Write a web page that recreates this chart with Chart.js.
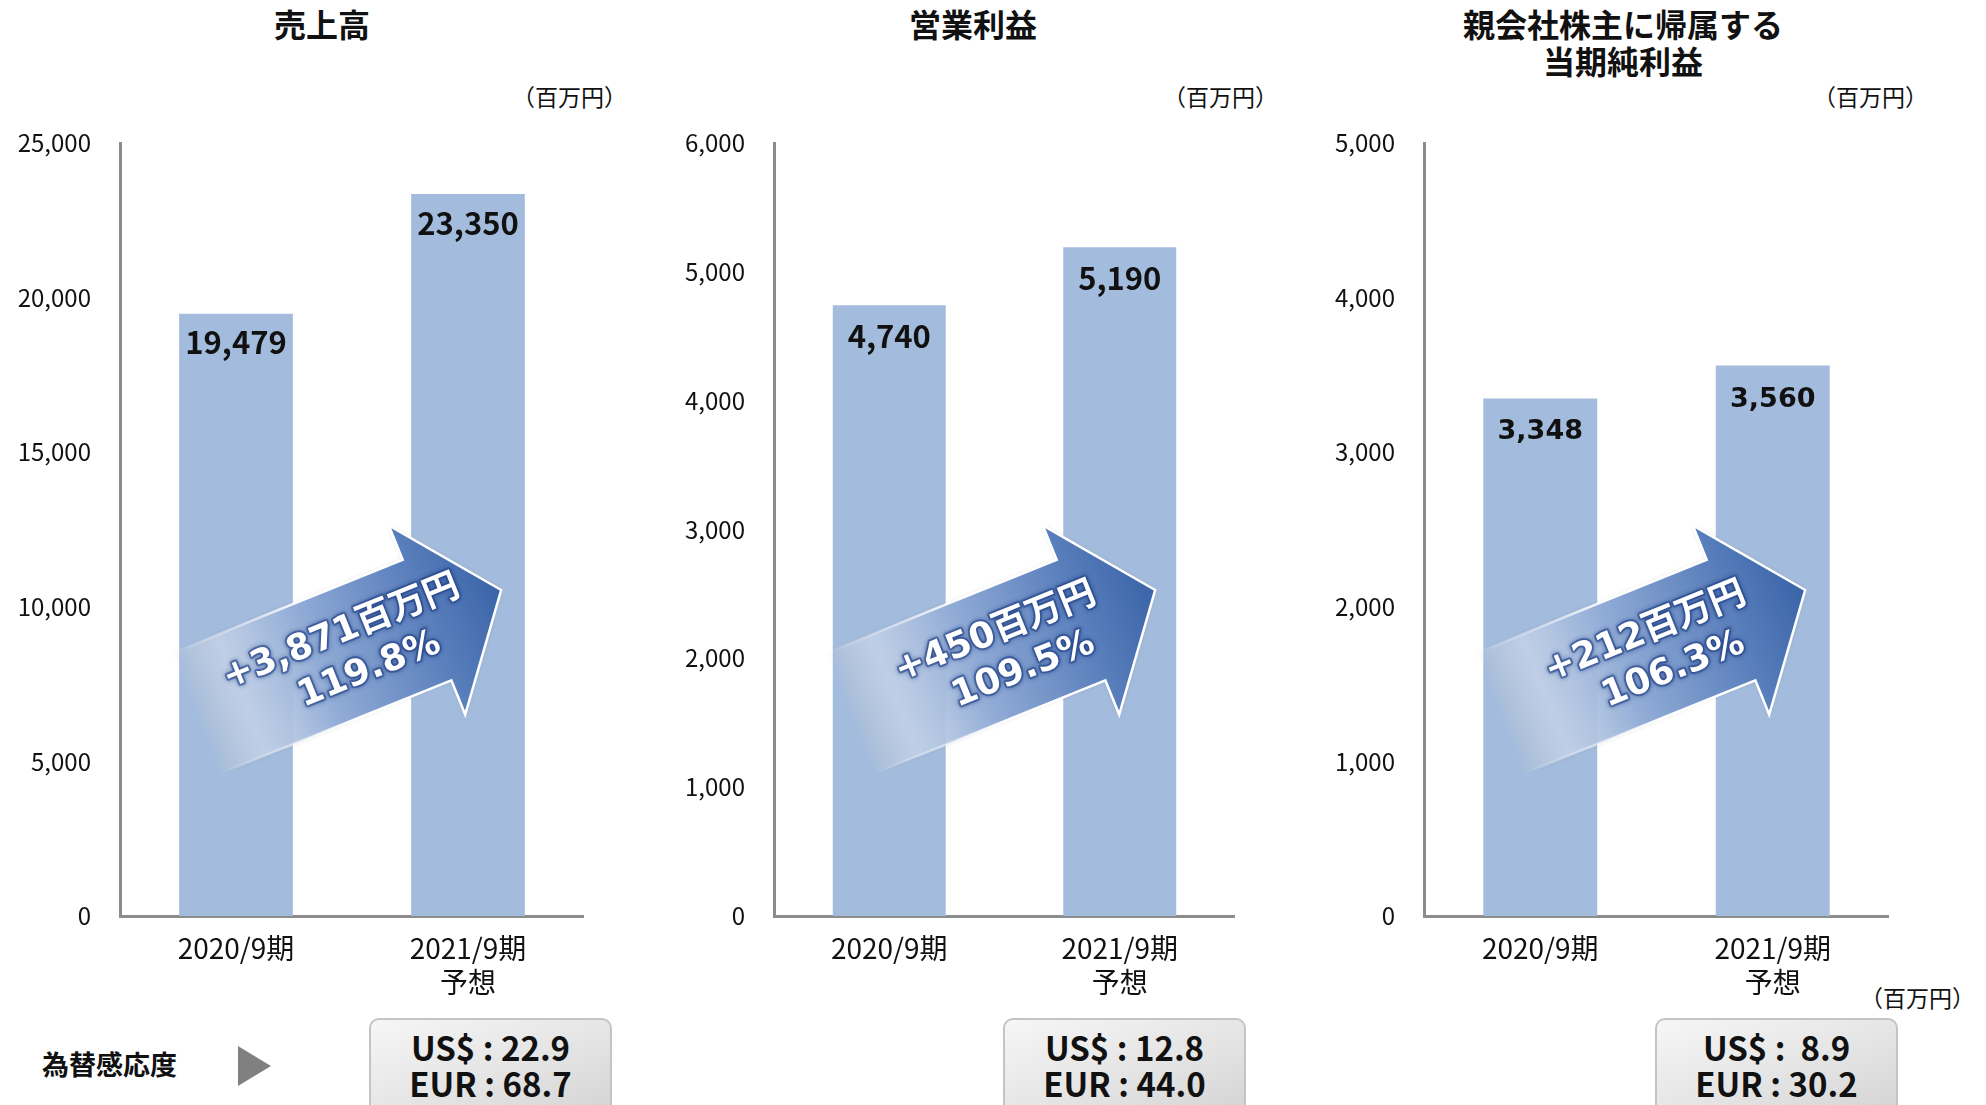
<!DOCTYPE html>
<html lang="ja">
<head>
<meta charset="utf-8">
<script src="https://cdn.jsdelivr.net/npm/chart.js@4.4.1/dist/chart.umd.min.js"></script>
<style>
body { margin: 0; width: 1986px; height: 1105px; overflow: hidden; background: #fff; position: relative;
       font-family: 'Noto Sans CJK JP', sans-serif; color: #111; }
canvas { position: absolute; top: 0; }
.title { position: absolute; font-weight: 700; font-size: 32px; line-height: 37px; text-align: center;
         transform: translateX(-50%); white-space: nowrap; }
.unit { position: absolute; font-size: 23px; line-height: 26px; white-space: nowrap; }
.box { position: absolute; top: 1018px; width: 243px; height: 120px; border: 2px solid #c4c4c4; border-radius: 10px;
       background: linear-gradient(160deg, #f6f6f6 0%, #e2e2e2 55%, #cfcfcf 100%);
       font-weight: 700; font-size: 33px; line-height: 36px; text-align: center; white-space: pre; padding-top: 9px;
       box-sizing: border-box; }
#fxLabel { position: absolute; left: 42px; top: 1046px; font-weight: 700; font-size: 27px; line-height: 36px; }
#fxArrow { position: absolute; left: 238px; top: 1046px; width: 0; height: 0;
           border-left: 33px solid #808080; border-top: 20px solid transparent; border-bottom: 20px solid transparent; }
</style>
</head>
<body>
<div class="title" style="left:322px; top:5px;">売上高</div>
<div class="title" style="left:973px; top:5px;">営業利益</div>
<div class="title" style="left:1623px; top:5px;">親会社株主に帰属する<br>当期純利益</div>
<div class="unit" style="left:512px; top:83px;">（百万円）</div>
<div class="unit" style="left:1163px; top:83px;">（百万円）</div>
<div class="unit" style="left:1813px; top:83px;">（百万円）</div>
<div class="unit" style="left:1860px; top:984px;">（百万円）</div>

<canvas id="salesChart" width="584" height="1000" style="left:0px"></canvas>
<canvas id="opChart" width="581" height="1000" style="left:654px"></canvas>
<canvas id="netChart" width="585" height="1000" style="left:1304px"></canvas>

<div id="fxLabel">為替感応度</div>
<div id="fxArrow"></div>
<div class="box" id="fx0" style="left:369px;"></div>
<div class="box" id="fx1" style="left:1003px;"></div>
<div class="box" id="fx2" style="left:1655px;"></div>

<script>
var categories = [['2020/9期'], ['2021/9期', '予想']];
var salesValues = [19479, 23350];
var opProfitValues = [4740, 5190];
var netProfitValues = [3348, 3560];
var axisMax = [25000, 6000, 5000];
var axisStep = [5000, 1000, 1000];
var growthAmounts = ['+3,871百万円', '+450百万円', '+212百万円'];
var growthRates = ['119.8%', '109.5%', '106.3%'];
var fxUsd = ['US$ : 22.9', 'US$ : 12.8', 'US$ :  8.9'];
var fxEur = ['EUR : 68.7', 'EUR : 44.0', 'EUR : 30.2'];

Chart.defaults.font.family = "'Noto Sans CJK JP', sans-serif";
Chart.defaults.color = '#111';

for (var i = 0; i < 3; i++) {
    document.getElementById('fx' + i).textContent = fxUsd[i] + '\n' + fxEur[i];
}

// value written inside the top of each bar
var barValueLabels = {
    id: 'barValueLabels',
    afterDatasetsDraw: function (chart, args, opts) {
        var ctx = chart.ctx;
        var meta = chart.getDatasetMeta(0);
        ctx.save();
        ctx.font = opts.font;
        ctx.fillStyle = '#111';
        ctx.textAlign = 'center';
        ctx.textBaseline = 'middle';
        meta.data.forEach(function (bar, i) {
            var v = chart.data.datasets[0].data[i];
            ctx.fillText(v.toLocaleString('en-US'), bar.x, bar.y + opts.offset);
        });
        ctx.restore();
    }
};

// the big blue growth arrow between the two bars
var growthArrow = {
    id: 'growthArrow',
    afterDraw: function (chart, args, opts) {
        var ctx = chart.ctx;
        var a = chart.chartArea;
        ctx.save();
        ctx.translate(a.left + 307, a.top + 477);
        ctx.rotate(-22 * Math.PI / 180);

        ctx.beginPath();
        ctx.moveTo(-250, -65);
        ctx.lineTo(0, -65);
        ctx.lineTo(0, -102);
        ctx.lineTo(80, 0);
        ctx.lineTo(0, 102);
        ctx.lineTo(0, 65);
        ctx.lineTo(-250, 65);
        ctx.closePath();
        var g = ctx.createLinearGradient(-250, 0, 80, 0);
        g.addColorStop(0, 'rgba(235,241,249,0)');
        g.addColorStop(0.15, 'rgba(200,214,236,0.85)');
        g.addColorStop(0.4, 'rgba(145,172,214,1)');
        g.addColorStop(0.75, '#5b80bd');
        g.addColorStop(1, '#3a64a8');
        ctx.shadowColor = 'rgba(0,0,0,0.15)';
        ctx.shadowBlur = 4;
        ctx.fillStyle = g;
        ctx.fill();
        ctx.shadowColor = 'transparent';

        ctx.beginPath();
        ctx.moveTo(-250, -65);
        ctx.lineTo(0, -65);
        ctx.lineTo(0, -102);
        ctx.lineTo(80, 0);
        ctx.lineTo(0, 102);
        ctx.lineTo(0, 65);
        ctx.lineTo(-250, 65);
        var sg = ctx.createLinearGradient(-250, 0, 0, 0);
        sg.addColorStop(0, 'rgba(255,255,255,0)');
        sg.addColorStop(0.6, 'rgba(255,255,255,1)');
        ctx.strokeStyle = sg;
        ctx.lineWidth = 2.5;
        ctx.stroke();

        ctx.font = "bold 36px 'DejaVu Sans', 'Noto Sans CJK JP'";
        ctx.textAlign = 'center';
        ctx.textBaseline = 'middle';
        ctx.lineJoin = 'round';
        ctx.strokeStyle = 'rgba(40,75,145,0.55)';
        ctx.lineWidth = 4;
        ctx.shadowColor = 'rgba(30,60,130,0.9)';
        ctx.shadowBlur = 5;
        ctx.strokeText(opts.amount, -84, -20);
        ctx.strokeText(opts.rate, -72, 25);
        ctx.shadowBlur = 3;
        ctx.fillStyle = '#fff';
        ctx.fillText(opts.amount, -84, -20);
        ctx.fillText(opts.rate, -72, 25);
        ctx.restore();
    }
};

function makeChart(canvasId, values, idx, labelFont, labelOffset) {
    return new Chart(document.getElementById(canvasId), {
        type: 'bar',
        data: {
            labels: categories,
            datasets: [{
                data: values,
                backgroundColor: '#a3bbdc',
                borderWidth: 0,
                categoryPercentage: 1,
                barPercentage: 0.49
            }]
        },
        options: {
            responsive: false,
            animation: false,
            events: [],
            layout: { padding: { top: 143, left: 0, right: 0, bottom: 0 } },
            plugins: {
                legend: { display: false },
                tooltip: { enabled: false },
                barValueLabels: { font: labelFont, offset: labelOffset },
                growthArrow: { amount: growthAmounts[idx], rate: growthRates[idx] }
            },
            scales: {
                x: {
                    grid: { display: false, drawTicks: false },
                    border: { display: true, color: '#8c8c8c', width: 3 },
                    ticks: { font: { size: 28 }, padding: 16, maxRotation: 0 },
                    afterFit: function (s) { s.height = 84; }
                },
                y: {
                    min: 0,
                    max: axisMax[idx],
                    grid: { display: false, drawTicks: false },
                    border: { display: true, color: '#8c8c8c', width: 3 },
                    ticks: {
                        stepSize: axisStep[idx],
                        padding: 29,
                        font: { size: 24 },
                        callback: function (v) { return v.toLocaleString('en-US'); }
                    },
                    afterFit: function (s) { s.width = 120; }
                }
            }
        },
        plugins: [barValueLabels, growthArrow]
    });
}

makeChart('salesChart', salesValues, 0, "bold 31px 'Noto Sans CJK JP'", 29);
makeChart('opChart', opProfitValues, 1, "bold 31px 'Noto Sans CJK JP'", 31);
makeChart('netChart', netProfitValues, 2, "bold 27px 'DejaVu Sans'", 34);
</script>
</body>
</html>
